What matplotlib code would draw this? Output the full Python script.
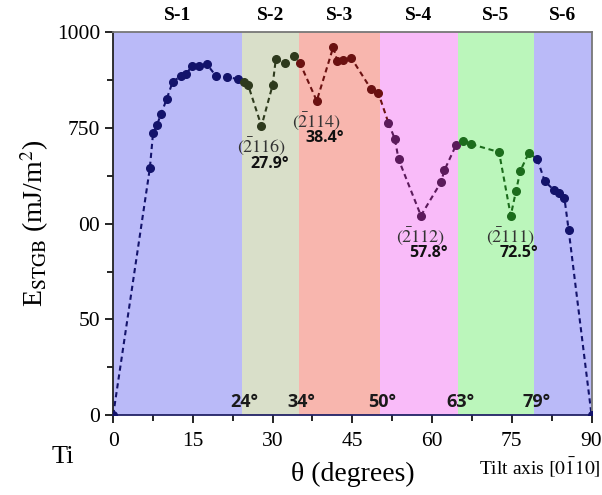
import matplotlib.pyplot as plt
import numpy as np

# tilt angle (degrees) and STGB energy (mJ/m^2)
theta = [0, 6.9, 7.5, 8.2, 9.0, 10.1, 11.2, 12.7, 13.7, 14.8, 16.1, 17.6, 19.4, 21.5, 23.4,
         24.7, 25.4, 27.9, 30.0, 30.6, 32.3, 34.1,
         35.1, 38.3, 41.4, 42.2, 43.2, 44.8, 48.5, 49.9,
         51.8, 53.0, 53.7, 57.9, 61.7, 62.3, 64.5,
         65.8, 67.3, 72.6, 74.8, 75.8, 76.6, 78.2,
         79.8, 81.2, 82.9, 83.8, 84.9, 85.7, 90]
energy = [0, 645, 736, 757, 786, 827, 871, 885, 891, 911, 913, 917, 885, 883, 878,
          869, 862, 755, 862, 930, 919, 937,
          921, 821, 961, 924, 928, 933, 852, 841,
          763, 721, 668, 521, 609, 639, 705,
          716, 708, 687, 521, 586, 638, 685,
          668, 611, 588, 579, 567, 483, 0]

bounds = [0, 24.2, 34.9, 50.2, 64.9, 79.1, 90]
region_names = ['S-1', 'S-2', 'S-3', 'S-4', 'S-5', 'S-6']
bound_labels = ['24°', '34°', '50°', '63°', '79°']
shade = ['#babaf8', '#d9dfc9', '#f8b6ae', '#f9bbf9', '#bbf6bb', '#babaf8']
mark = ['#13136b', '#2e3a1d', '#6b1111', '#5b1a5b', '#1c6c1c', '#13136b']

# planes at the local minima
planes = [r'$(\bar{2}116)$', r'$(\bar{2}114)$', r'$(\bar{2}112)$', r'$(\bar{2}111)$']
min_angles = ['27.9°', '38.4°', '57.8°', '72.5°']
min_pos = [(27.9, 755), (38.3, 821), (57.9, 521), (74.8, 521)]

plt.rcParams['mathtext.fontset'] = 'stix'

fig = plt.figure(figsize=(6.02, 4.95), dpi=100)
ax = fig.add_axes([0.188, 0.1616, 0.7946, 0.7731])

for i in range(6):
    ax.axvspan(bounds[i], bounds[i + 1], color=shade[i], lw=0, zorder=0)

x = np.array(theta)
y = np.array(energy)
seg = np.clip(np.digitize(x, bounds[1:-1]), 0, 5)
for i in range(6):
    idx = np.where(seg == i)[0]
    last = min(idx[-1] + 1, len(x) - 1)
    sl = list(idx) + ([last] if last not in idx else [])
    ax.plot(x[sl], y[sl], ls=(0, (2.5, 1.8)), lw=1.5, color=mark[i], zorder=2)
    ax.plot(x[idx], y[idx], 'o', ms=5.5, color=mark[i], zorder=3)

serif = 'Liberation Serif'
for i in range(6):
    ax.text((bounds[i] + bounds[i + 1]) / 2, 1022, region_names[i], ha='center', va='bottom',
            fontsize=14, fontweight='bold', family=serif, clip_on=False)

for b, lab in zip(bounds[1:-1], bound_labels):
    ax.text(b + 0.5, 10, lab, ha='center', va='bottom', fontsize=13,
            fontweight='bold', family='Open Sans', color='#1a1a1a')

for (px, py), p, a in zip(min_pos, planes, min_angles):
    ax.text(px, py - 25, p, ha='center', va='top', fontsize=13, color='#333333')
    ax.text(px + 1.5, py - 77, a, ha='center', va='top', fontsize=11.5,
            fontweight='bold', family='Open Sans', color='#111111')

ax.set_xlim(0, 90)
ax.set_ylim(0, 1000)
ax.set_xticks([0, 15, 30, 45, 60, 75, 90])
ax.set_xticks(np.arange(7.5, 90, 15), minor=True)
ax.set_yticks([0, 250, 500, 750, 1000])
ax.set_yticklabels(['0', '50', '00', '750', '1000'])
ax.set_yticks([125, 375, 625, 875], minor=True)
ax.tick_params(which='both', direction='out', labelsize=15.5)
ax.tick_params(which='major', length=6, width=1.2)
ax.tick_params(which='minor', length=4, width=1.2)
ax.tick_params(axis='x', pad=6)
for lab in ax.get_xticklabels() + ax.get_yticklabels():
    lab.set_family(serif)

ax.spines['top'].set_color('#777777')
ax.spines['right'].set_color('#777777')
ax.spines['left'].set_color('#222222')
ax.spines['bottom'].set_color('#222266')
for s in ax.spines.values():
    s.set_linewidth(1.3)

ax.set_xlabel('θ (degrees)', fontsize=20, family=serif, labelpad=8)
ax.set_ylabel(r'E$_{\mathrm{STGB}}$ (mJ/m$^2$)', fontsize=20, family=serif, labelpad=4)
fig.text(0.105, 0.065, 'Ti', fontsize=19, family=serif, ha='center')
fig.text(0.897, 0.042, r'Tilt axis $[0\bar{1}10]$', fontsize=14, family=serif, ha='center')

fig.savefig('out.png', dpi=100)
